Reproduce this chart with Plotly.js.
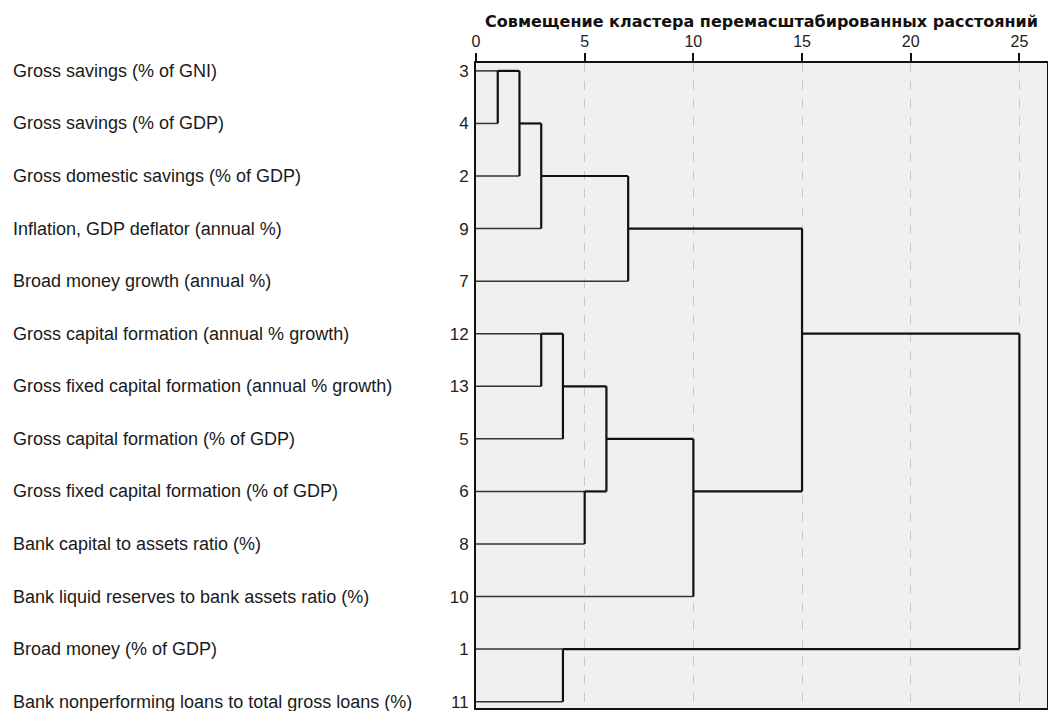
<!DOCTYPE html>
<html>
<head>
<meta charset="utf-8">
<script src="https://cdn.plot.ly/plotly-3.0.1.min.js"></script>
<style>html,body{margin:0;padding:0;background:#fff;}#chart{width:1048px;height:711px;}</style>
</head>
<body>
<div id="chart"></div>
<script>
// Leaf order (top to bottom) and their case numbers
const leafIds = [3, 4, 2, 9, 7, 12, 13, 5, 6, 8, 10, 1, 11];
const leafLabels = [
  "Gross savings (% of GNI)",
  "Gross savings (% of GDP)",
  "Gross domestic savings (% of GDP)",
  "Inflation, GDP deflator (annual %)",
  "Broad money growth (annual %)",
  "Gross capital formation (annual % growth)",
  "Gross fixed capital formation (annual % growth)",
  "Gross capital formation (% of GDP)",
  "Gross fixed capital formation (% of GDP)",
  "Bank capital to assets ratio (%)",
  "Bank liquid reserves to bank assets ratio (%)",
  "Broad money (% of GDP)",
  "Bank nonperforming loans to total gross loans (%)"
];
// Merge steps: members given as "L<caseId>" for leaves or "M<step>" for earlier merges
const mergeLeft  = ["L3", "M0", "M1", "L12", "M3", "L1",  "L6", "M4", "M2", "M7", "M8", "M10"];
const mergeRight = ["L4", "L2", "L9", "L13", "L5", "L11", "L8", "M6", "L7", "L10","M9", "M5"];
const mergeDist  = [1, 2, 3, 3, 4, 4, 5, 6, 7, 10, 15, 25];
const tickVals = [0, 5, 10, 15, 20, 25];
const titleText = "Совмещение кластера перемасштабированных расстояний";

// Build dendrogram segments from merge data
const nodeY = {}, nodeX = {}, parentDist = {};
leafIds.forEach((id, i) => { nodeY["L" + id] = i; nodeX["L" + id] = 0; });
mergeDist.forEach((d, k) => {
  const a = mergeLeft[k], b = mergeRight[k];
  parentDist[a] = d; parentDist[b] = d;
  nodeY["M" + k] = Math.floor((nodeY[a] + nodeY[b]) / 2);
  nodeX["M" + k] = d;
});
const leafX = [], leafY = [], clX = [], clY = [];
Object.keys(nodeY).forEach(n => {
  if (parentDist[n] === undefined) return;
  const tx = n[0] === "L" ? leafX : clX, ty = n[0] === "L" ? leafY : clY;
  tx.push(nodeX[n], parentDist[n], null); ty.push(nodeY[n], nodeY[n], null);
});
mergeDist.forEach((d, k) => {
  clX.push(d, d, null); clY.push(nodeY[mergeLeft[k]], nodeY[mergeRight[k]], null);
});

const FONT = "Liberation Sans, Arial, sans-serif";
const traces = [
  {x: leafX, y: leafY, mode: "lines", line: {color: "#333", width: 1.5}, hoverinfo: "skip", showlegend: false},
  {x: clX, y: clY, mode: "lines", line: {color: "#111", width: 2.2}, hoverinfo: "skip", showlegend: false}
];
const annotations = leafLabels.map((t, i) => ({
  text: t, xref: "paper", x: -0.8135, xanchor: "left", yref: "y", y: i, yanchor: "middle",
  showarrow: false, font: {family: FONT, size: 18, color: "#1a1a1a"}
}));
const layout = {
  width: 1048, height: 711,
  margin: {l: 476, r: 1, t: 63, b: 3, pad: 0},
  paper_bgcolor: "#ffffff", plot_bgcolor: "#f0f0f0",
  title: {text: titleText, font: {family: "DejaVu Sans, sans-serif", size: 16, weight: "bold", color: "#111"},
          xref: "paper", x: 0.5, xanchor: "center", yref: "container", y: 0.97, yanchor: "middle"},
  xaxis: {side: "top", range: [0, 26.27], tickvals: tickVals, ticks: "outside", ticklen: 8, tickwidth: 2,
          tickcolor: "#111", showline: true, linecolor: "#111", linewidth: 2, mirror: true,
          showgrid: true, gridcolor: "#c8c8c8", griddash: "dash", gridwidth: 1, zeroline: false,
          tickfont: {family: FONT, size: 16, color: "#222"}, fixedrange: true},
  yaxis: {range: [12.12, -0.15], tickvals: leafIds.map((_, i) => i), ticktext: leafIds.map(String),
          ticks: "", showline: true, linecolor: "#111", linewidth: 2, mirror: true, showgrid: false,
          zeroline: false, tickfont: {family: FONT, size: 17, color: "#222"}, ticklabelstandoff: 2,
          ticklabeloverflow: "allow", fixedrange: true},
  annotations: annotations,
  showlegend: false
};
Plotly.newPlot("chart", traces, layout, {displayModeBar: false, staticPlot: true});
</script>
</body>
</html>
